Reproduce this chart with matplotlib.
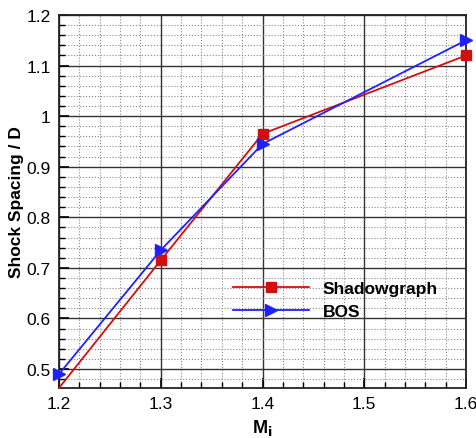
import numpy as np
import matplotlib
matplotlib.use("Agg")
import matplotlib.pyplot as plt
from matplotlib.ticker import MultipleLocator

plt.rcParams['font.family'] = ['Liberation Sans', 'DejaVu Sans']

# Mach number vs shock spacing
mach = [1.2, 1.3, 1.4, 1.6]
shadowgraph = [0.4625, 0.715, 0.965, 1.12]
bos = [0.49, 0.735, 0.945, 1.15]

fig = plt.figure(figsize=(4.77, 4.39), dpi=100)
ax = fig.add_axes([59/477, 1 - 389/439, 407/477, 373/439])

ax.plot(mach, shadowgraph, color='#d01010', lw=1.3, marker='s', ms=7,
        markevery=[1, 2, 3], label='Shadowgraph', zorder=3, clip_on=False)
ax.plot(mach, bos, color='#2020ff', lw=1.3, marker='>', ms=8,
        label='BOS', zorder=3, clip_on=False)

ax.set_xlim(1.2, 1.6)
ax.set_ylim(0.4625, 1.2)
ax.xaxis.set_minor_locator(MultipleLocator(0.02))
ax.yaxis.set_minor_locator(MultipleLocator(0.02))
ax.set_xticks([1.2, 1.3, 1.4, 1.5, 1.6])
ax.set_xticklabels(['1.2', '1.3', '1.4', '1.5', '1.6'])
ax.set_yticks([0.5, 0.6, 0.7, 0.8, 0.9, 1.0, 1.1, 1.2])
ax.set_yticklabels(['0.5', '0.6', '0.7', '0.8', '0.9', '1', '1.1', '1.2'])

ax.grid(which='major', color='#333333', lw=1.0, ls='-')
ax.grid(which='minor', color='#888888', lw=0.8, ls=':')
ax.set_axisbelow(True)

ax.tick_params(which='both', direction='in', labelsize=12.5, pad=6)
ax.tick_params(which='major', length=7, width=1.2)
ax.tick_params(which='minor', length=4, width=1)
for s in ax.spines.values():
    s.set_linewidth(1.3)
    s.set_color('#222222')

ax.set_xlabel('M$_\\mathbf{i}$', fontsize=13, fontweight='bold', labelpad=4)
ax.set_ylabel('Shock Spacing / D', fontsize=12.5, fontweight='bold', labelpad=2,
              family=['Liberation Sans Narrow', 'Liberation Sans'])

leg = ax.legend(loc='center left', bbox_to_anchor=(0.405, 0.235), frameon=False,
                prop={'size': 12.5, 'weight': 'bold'}, handlelength=4.4,
                handletextpad=0.8, labelspacing=0.45, borderpad=0)

fig.savefig('out.png', dpi=100)
